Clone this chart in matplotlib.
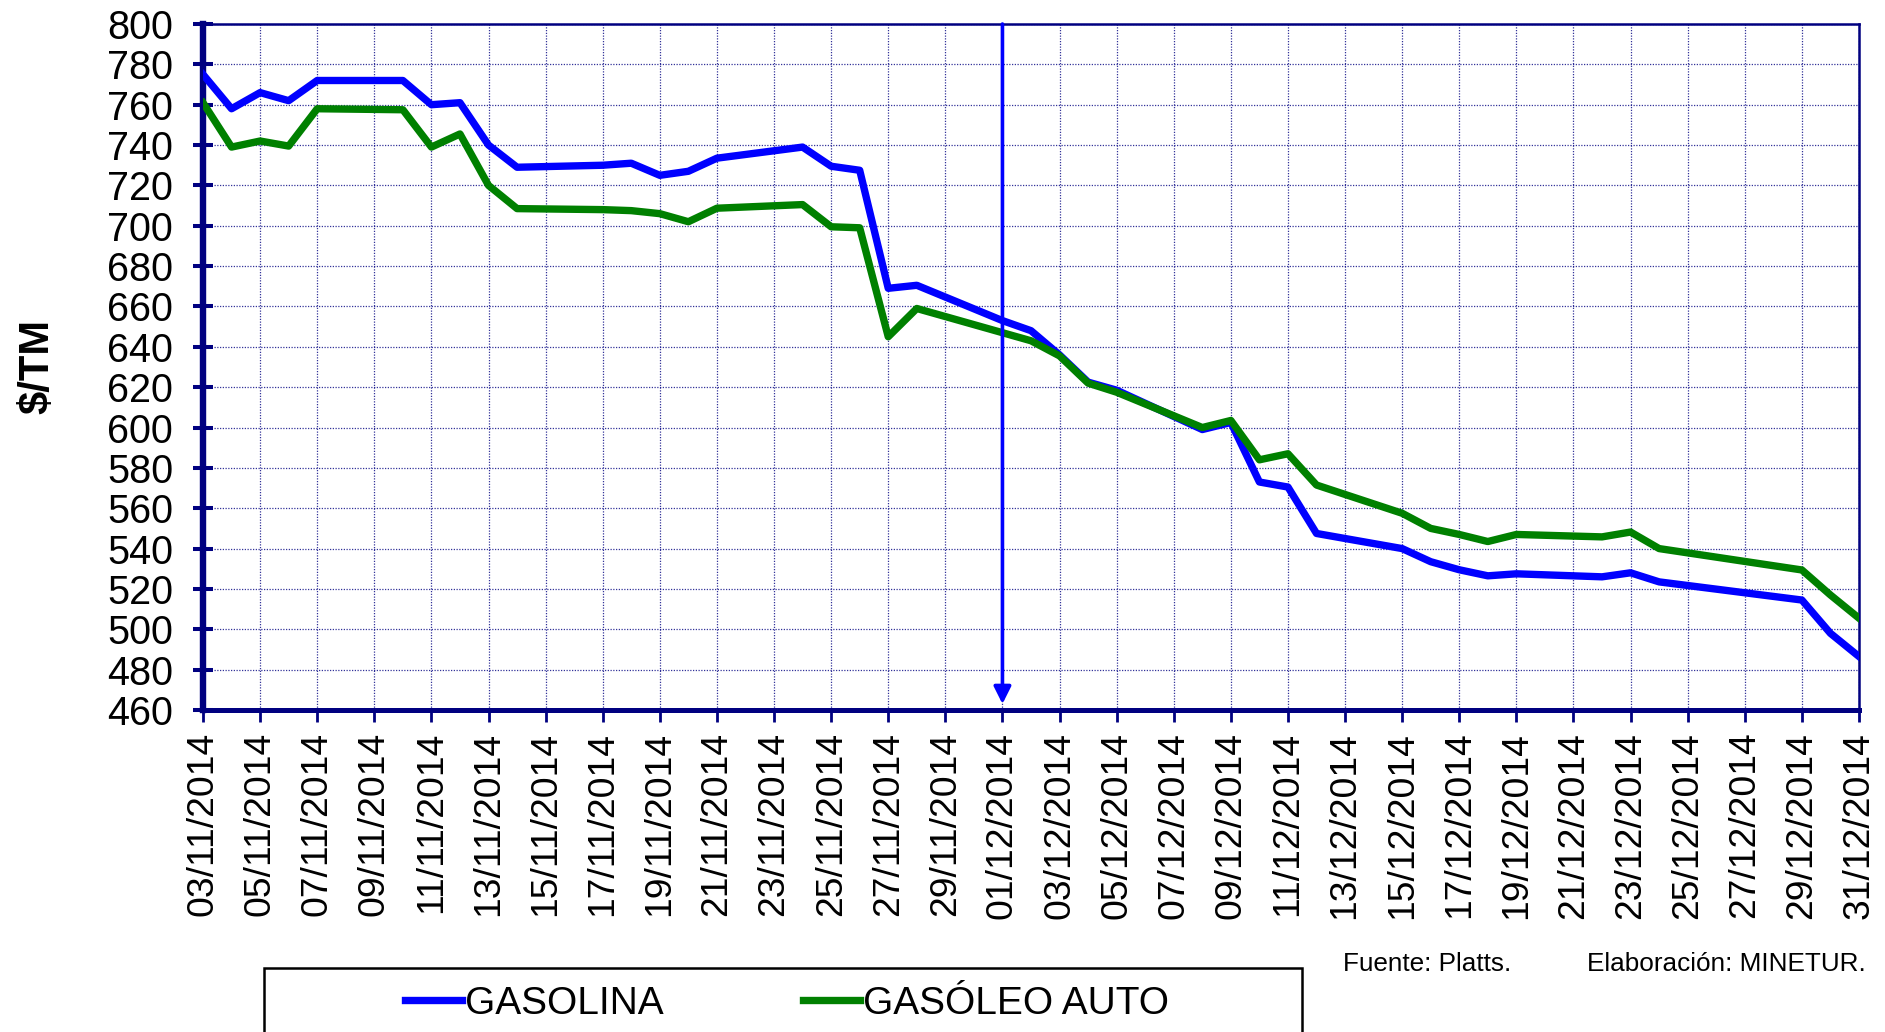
import matplotlib
matplotlib.use('Agg')
import matplotlib.pyplot as plt
import matplotlib.dates as mdates
import pandas as pd
from matplotlib.patches import Rectangle

plt.rcParams['font.family'] = ['Liberation Sans', 'DejaVu Sans']

dates = ['03/11/2014', '04/11/2014', '05/11/2014', '06/11/2014', '07/11/2014',
         '10/11/2014', '11/11/2014', '12/11/2014', '13/11/2014', '14/11/2014',
         '17/11/2014', '18/11/2014', '19/11/2014', '20/11/2014', '21/11/2014',
         '24/11/2014', '25/11/2014', '26/11/2014', '27/11/2014', '28/11/2014',
         '01/12/2014', '02/12/2014', '03/12/2014', '04/12/2014', '05/12/2014',
         '08/12/2014', '09/12/2014', '10/12/2014', '11/12/2014', '12/12/2014',
         '15/12/2014', '16/12/2014', '17/12/2014', '18/12/2014', '19/12/2014',
         '22/12/2014', '23/12/2014', '24/12/2014', '29/12/2014', '30/12/2014',
         '31/12/2014']

gasolina = [775, 758, 766, 762, 772,
            772, 760, 761, 740, 729,
            730, 731, 725, 727, 733.5,
            739, 729.5, 727.5, 669, 670.5,
            653, 648, 636, 622.5, 618.5,
            599, 602.5, 573, 570.5, 547.5,
            540, 533.5, 529.5, 526.5, 527.5,
            526, 528, 523.5, 514.5, 498,
            486.5]

gasoleo = [761, 739, 742, 739.5, 758,
           757.5, 739, 745.5, 720, 708.5,
           708, 707.5, 706, 702, 708.7,
           710.5, 699.5, 699, 645, 659,
           647, 643, 635.5, 622, 617.5,
           600, 603.5, 584, 587, 571.5,
           557.5, 550, 547, 543.5, 547,
           545.8, 548.2, 540, 529.4, 517,
           505.5]

series_names = ['GASOLINA', 'GASÓLEO AUTO']
y_ticks = list(range(460, 801, 20))
x_first, x_last = '2014-11-03', '2014-12-31'
marker_date = '2014-12-01'
source_text = 'Fuente: Platts.'
author_text = 'Elaboración: MINETUR.'
y_label = '$/TM'

W, H = 1885, 1032
fig = plt.figure(figsize=(W / 100, H / 100), dpi=100)
L, R, T, B = 203, 1859, 24, 710
ax = fig.add_axes([L / W, 1 - B / H, (R - L) / W, (B - T) / H])

d = pd.to_datetime(dates, format='%d/%m/%Y')
navy = '#000080'
ax.plot(d, gasolina, color='#0000FF', lw=5.3, label=series_names[0], zorder=3)
ax.plot(d, gasoleo, color='#008000', lw=5.3, label=series_names[1], zorder=3)

xt = pd.date_range(x_first, x_last, freq='2D')
ax.set_xticks(xt)
ax.xaxis.set_major_formatter(mdates.DateFormatter('%d/%m/%Y'))
ax.set_xlim(xt[0], xt[-1])
ax.set_ylim(y_ticks[0], y_ticks[-1])
ax.set_yticks(y_ticks)

ax.grid(True, color=navy, linestyle=(0, (1, 1.2)), linewidth=0.9, alpha=0.8)
ax.set_axisbelow(True)

ax.tick_params(axis='x', direction='out', length=8.6, width=2, color=navy,
               labelsize=26.8, labelrotation=90, pad=7)
ax.tick_params(axis='y', direction='inout', length=15, width=2.9, color=navy,
               labelsize=28.5, pad=14)

for s in ['top', 'right']:
    ax.spines[s].set_color(navy)
    ax.spines[s].set_linewidth(1.8)
ax.spines['left'].set_color(navy)
ax.spines['left'].set_linewidth(4.6)
ax.spines['bottom'].set_color(navy)
ax.spines['bottom'].set_linewidth(3.6)

md = pd.Timestamp(marker_date)
ax.annotate('', xy=(md, 463), xytext=(md, 800),
            arrowprops=dict(arrowstyle='-|>', color='#0000FF', lw=2.6,
                            mutation_scale=26, shrinkA=0, shrinkB=0),
            zorder=4, annotation_clip=False)

fig.text(37 / W, 1 - 367 / H, y_label, rotation=90, ha='center', va='center',
         fontsize=30, fontweight='bold')

fig.text(1343 / W, 1 - 964 / H, source_text, fontsize=18.8, va='center', ha='left')
fig.text(1587 / W, 1 - 964 / H, author_text, fontsize=18.8, va='center', ha='left')

fig.patches.append(Rectangle((264 / W, -0.05), (1302 - 264) / W, 0.05 + (1 - 968 / H),
                             transform=fig.transFigure, fill=False,
                             edgecolor='black', lw=1.8))
handles, labels = ax.get_legend_handles_labels()
fig.legend(handles, labels, loc='center', bbox_to_anchor=(787 / W, 1 - 1004 / H),
           ncol=2, frameon=False, fontsize=28, handlelength=1.45,
           handletextpad=0.08, columnspacing=3.6)

fig.savefig('out.png', dpi=100)
